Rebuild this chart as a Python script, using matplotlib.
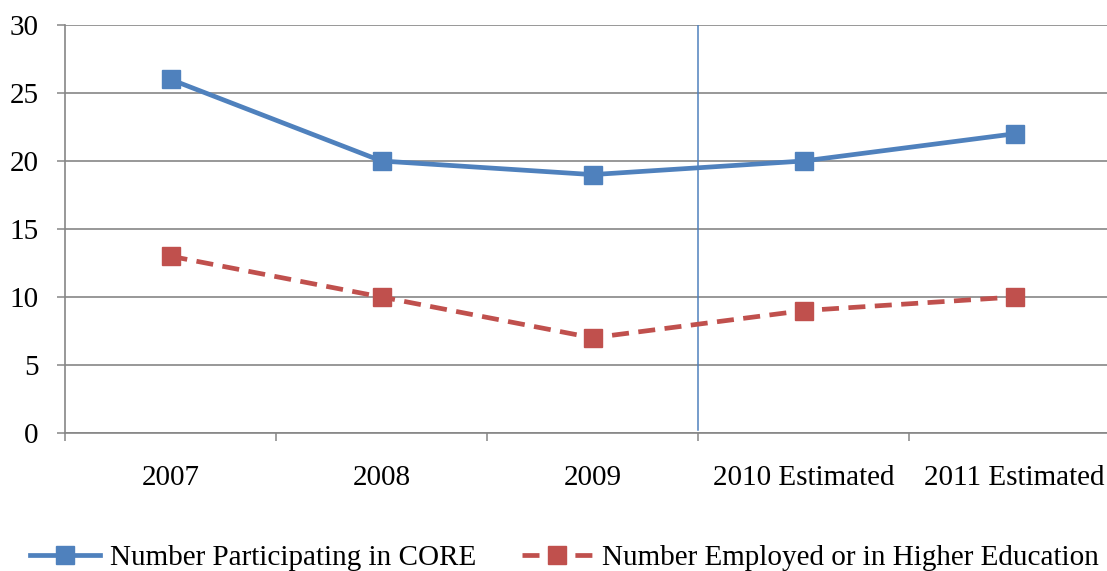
import matplotlib
matplotlib.use("Agg")
import matplotlib.pyplot as plt

categories = ["2007", "2008", "2009", "2010 Estimated", "2011 Estimated"]
participating = [26, 20, 19, 20, 22]
employed = [13, 10, 7, 9, 10]
y_ticks = [0, 5, 10, 15, 20, 25, 30]

plt.rcParams['font.family'] = ['Liberation Serif', 'DejaVu Serif']

fig = plt.figure(figsize=(11.07, 5.71), dpi=100)
ax = fig.add_axes([65/1107, 138/571, 1055/1107, 408/571])

blue = "#4F81BD"
red = "#C0504D"
grid = "#868686"

x = [i + 0.5 for i in range(len(categories))]
ax.plot(x, participating, color=blue, lw=3.4, marker='s', markersize=13.5,
        label="Number Participating in CORE", zorder=4)
ax.plot(x, employed, color=red, lw=3.4, ls=(0, (3.6, 2.0)), marker='s', markersize=13.5,
        label="Number Employed or in Higher Education", zorder=4)

ax.axvline(3, ymin=0.008, ymax=1, color=blue, lw=1.1, zorder=3)

ax.set_xlim(0, 5)
ax.set_ylim(0, 30)
ax.set_yticks(y_ticks)
ax.set_xticks(range(0, 6))
ax.set_xticklabels([])
ax.set_xticks(x, minor=True)
ax.set_xticklabels(categories, minor=True)
ax.tick_params(axis='x', which='minor', length=0, pad=23, labelsize=21)
ax.tick_params(axis='x', which='major', length=6, width=1.1, color=grid)
ax.tick_params(axis='y', length=6, width=1.1, color=grid, pad=13, labelsize=21)

ax.yaxis.grid(True, color=grid, lw=1.2)
ax.set_axisbelow(True)
for s in ['top', 'right']:
    ax.spines[s].set_visible(False)
for s in ['left', 'bottom']:
    ax.spines[s].set_color(grid)
    ax.spines[s].set_linewidth(1.2)

fig.legend(loc='center left', bbox_to_anchor=(30/1107, 13/571), ncol=2, frameon=False,
           fontsize=21, handlelength=2.4, handletextpad=0.35, columnspacing=1.55,
           borderpad=0, borderaxespad=0)

fig.savefig("out.png", dpi=100)
